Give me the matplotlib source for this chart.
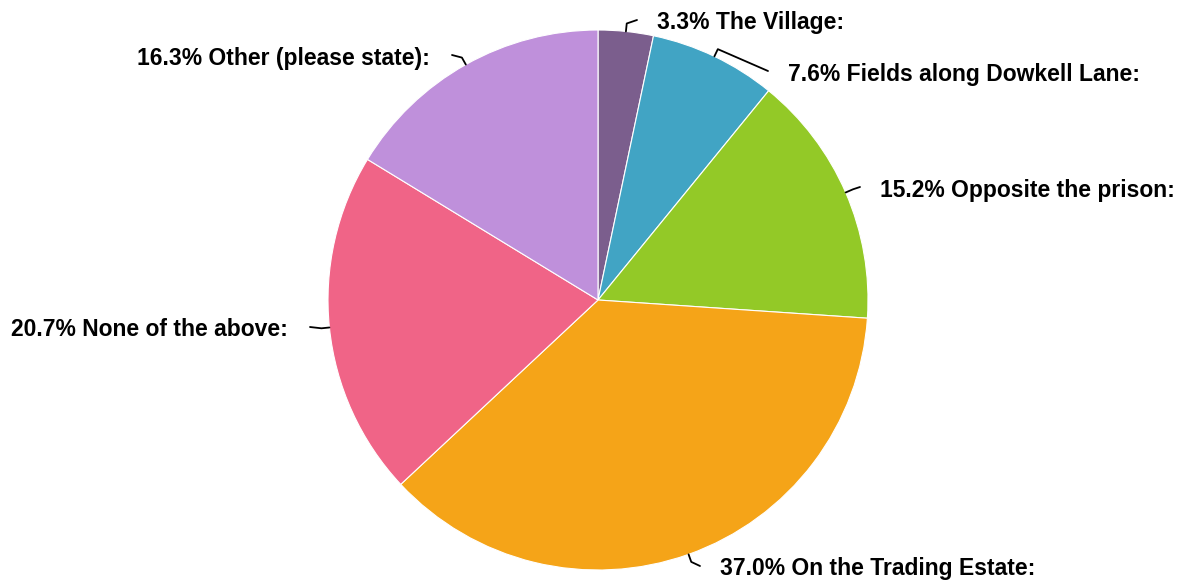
import numpy as np
import matplotlib.pyplot as plt

# ---------------------------------------------------------------------------
# Data
# ---------------------------------------------------------------------------
labels = ['The Village:', 'Fields along Dowkell Lane:', 'Opposite the prison:',
          'On the Trading Estate:', 'None of the above:', 'Other (please state):']
shares = [3.3, 7.6, 15.2, 37.0, 20.7, 16.3]
colors = ['#7B5E8D', '#41A4C4', '#93C927', '#F5A418', '#F06487', '#BF90DB']

# where each leader line ends (pixel coords, y from top)
leader_end = [(637, 20), (768, 71), (860, 187), (700, 566), (310, 327), (452, 55)]

W, H = 1184, 580
cx, cy, R = 598, H - 300, 270

fig = plt.figure(figsize=(W / 100, H / 100), dpi=100)
ax = fig.add_axes([0, 0, 1, 1])

wedges, _ = ax.pie(shares, colors=colors, startangle=90, counterclock=False,
                   center=(cx, cy), radius=R, frame=True,
                   wedgeprops=dict(edgecolor='white', linewidth=0.8))
ax.set_xlim(0, W)
ax.set_ylim(0, H)
ax.set_aspect('equal')
ax.axis('off')

for w, lab, val, (ex, ey) in zip(wedges, labels, shares, leader_end):
    mid = np.deg2rad((w.theta1 + w.theta2) / 2)
    x0, y0 = cx + R * np.cos(mid), cy + R * np.sin(mid)
    x1, y1 = cx + (R + 8) * np.cos(mid), cy + (R + 8) * np.sin(mid)
    ey = H - ey
    ax.plot([x0, x1, ex], [y0, y1, ey], color='black', lw=1.3,
            solid_capstyle='round', solid_joinstyle='round')
    right = ex > cx
    ax.text(ex + (20 if right else -22), ey - 3, f'{val:.1f}% {lab}',
            ha='left' if right else 'right', va='center',
            fontsize=16.5, fontweight='bold', family='Liberation Sans')

fig.savefig('out.png', dpi=100)
